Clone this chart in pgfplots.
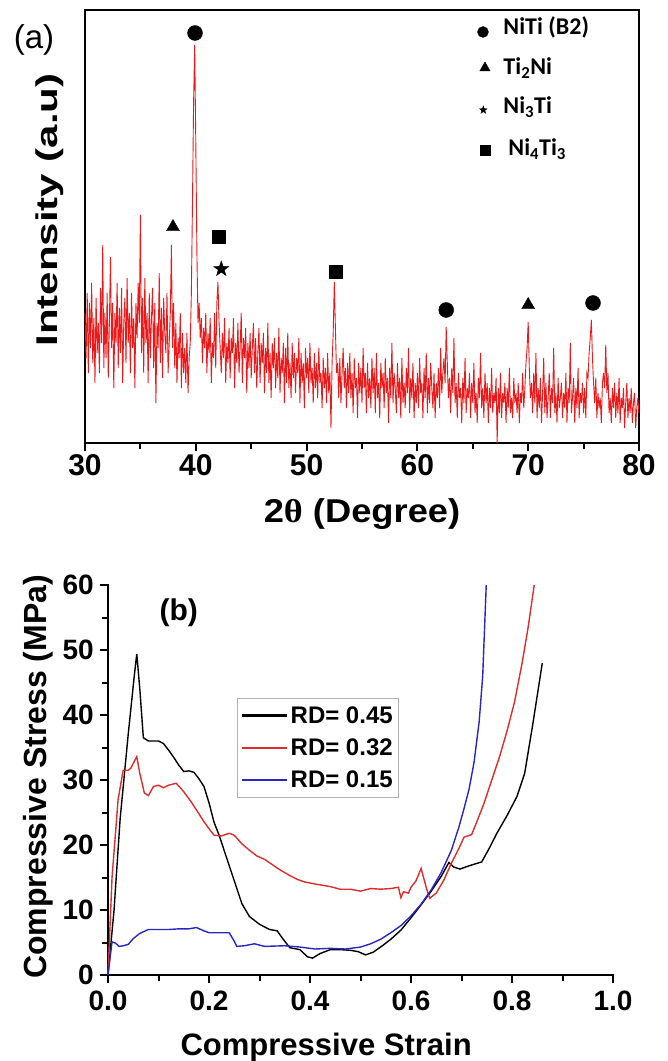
\documentclass[border=0pt]{standalone}
\usepackage{fontspec}
\setmainfont{Liberation Sans}
\newfontfamily\carlito{Carlito}
\newfontfamily\grserif{Liberation Serif}
\usepackage{graphicx}
\usepackage{pgfplots}
\pgfplotsset{compat=1.18}

\definecolor{xrdred}{RGB}{235,25,25}
\definecolor{rdred}{RGB}{220,45,45}
\definecolor{rdblue}{RGB}{40,40,190}

% filled five-pointed star
\pgfdeclareplotmark{fstar}{%
  \pgfpathmoveto{\pgfpointpolar{90}{\pgfplotmarksize}}%
  \pgfpathlineto{\pgfpointpolar{126}{0.4\pgfplotmarksize}}%
  \pgfpathlineto{\pgfpointpolar{162}{\pgfplotmarksize}}%
  \pgfpathlineto{\pgfpointpolar{198}{0.4\pgfplotmarksize}}%
  \pgfpathlineto{\pgfpointpolar{234}{\pgfplotmarksize}}%
  \pgfpathlineto{\pgfpointpolar{270}{0.4\pgfplotmarksize}}%
  \pgfpathlineto{\pgfpointpolar{306}{\pgfplotmarksize}}%
  \pgfpathlineto{\pgfpointpolar{342}{0.4\pgfplotmarksize}}%
  \pgfpathlineto{\pgfpointpolar{18}{\pgfplotmarksize}}%
  \pgfpathlineto{\pgfpointpolar{54}{0.4\pgfplotmarksize}}%
  \pgfpathclose\pgfusepathqfillstroke}

\begin{document}
\begin{tikzpicture}
\path[use as bounding box] (0,0) rectangle (668pt,1061pt);

% ---------------- (a) XRD ----------------
\begin{axis}[
    at={(85pt,618pt)}, anchor=south west,
    scale only axis, width=554pt, height=433pt,
    xmin=30, xmax=80, ymin=0, ymax=433,
    xtick={30,40,50,60,70,80}, minor x tick num=1,
    ytick=\empty,
    clip=false,
    separate axis lines,
    axis line style={line width=2.5pt, line cap=rect},
    tick align=outside, major tick length=8pt, minor tick length=6pt,
    tick style={line width=2pt, black},
    xtick pos=bottom,
    /pgf/number format/assume math mode=true,
    xticklabel style={font=\fontsize{30}{36}\selectfont\bfseries},
    xlabel={\scalebox{1.1}[1]{2{\grserif θ} (Degree)}},
    xlabel style={font=\fontsize{33}{40}\selectfont\bfseries,
        at={(axis description cs:0.5,-0.164)}, anchor=center},
    ylabel={\scalebox{1.4}[1]{Intensity (a.u)}},
    ylabel style={font=\fontsize{30}{36}\selectfont\bfseries,
        at={(axis description cs:-0.063,0.538)}, anchor=center},
]
\addplot[xrdred, line width=0.9pt] coordinates {
(30.0,130) (30.1,85) (30.2,150) (30.3,70) (30.4,140) (30.5,95) (30.6,160) (30.7,80) (30.8,125) (30.9,60)
(31.0,145) (31.1,90) (31.2,120) (31.3,70) (31.4,155) (31.5,100) (31.6,198) (31.7,75) (31.8,130) (31.9,85)
(32.0,150) (32.1,65) (32.2,120) (32.3,186) (32.4,95) (32.5,140) (32.6,55) (32.7,130) (32.8,100) (32.9,160)
(33.0,75) (33.1,135) (33.2,90) (33.3,155) (33.4,60) (33.5,120) (33.6,145) (33.7,80) (33.8,165) (33.9,100)
(34.0,130) (34.1,70) (34.2,150) (34.3,95) (34.4,125) (34.5,55) (34.6,140) (34.7,105) (34.8,160) (34.9,120)
(35.0,228) (35.1,90) (35.2,145) (35.3,70) (35.4,165) (35.5,100) (35.6,130) (35.7,60) (35.8,150) (35.9,85)
(36.0,125) (36.1,155) (36.2,75) (36.3,140) (36.4,40) (36.5,120) (36.6,95) (36.7,170) (36.8,80) (36.9,135)
(37.0,65) (37.1,145) (37.2,110) (37.3,90) (37.4,150) (37.5,70) (37.6,100) (37.7,130) (37.8,198) (37.9,95)
(38.0,140) (38.1,75) (38.2,120) (38.3,60) (38.4,105) (38.5,85) (38.6,130) (38.7,55) (38.8,110) (38.9,70)
(39.0,95) (39.1,60) (39.2,110) (39.3,50) (39.4,85) (39.5,100) (39.6,150) (39.7,240) (39.8,340) (39.9,398)
(40.0,300) (40.1,190) (40.2,120) (40.3,140) (40.4,105) (40.5,125) (40.6,80) (40.7,115) (40.8,95) (40.9,130)
(41.0,70) (41.1,110) (41.2,90) (41.3,125) (41.4,60) (41.5,100) (41.6,85) (41.7,130) (41.8,75) (41.9,140)
(42.0,161) (42.1,120) (42.2,95) (42.3,70) (42.4,110) (42.5,85) (42.6,125) (42.7,60) (42.8,100) (42.9,80)
(43.0,115) (43.1,65) (43.2,105) (43.3,90) (43.4,125) (43.5,55) (43.6,100) (43.7,80) (43.8,120) (43.9,70)
(44.0,95) (44.1,130) (44.2,60) (44.3,105) (44.4,85) (44.5,115) (44.6,50) (44.7,100) (44.8,75) (44.9,110)
(45.0,65) (45.1,95) (45.2,120) (45.3,70) (45.4,105) (45.5,55) (45.6,90) (45.7,115) (45.8,60) (45.9,100)
(46.0,80) (46.1,110) (46.2,50) (46.3,95) (46.4,70) (46.5,120) (46.6,60) (46.7,90) (46.8,45) (46.9,100)
(47.0,75) (47.1,105) (47.2,55) (47.3,90) (47.4,65) (47.5,115) (47.6,50) (47.7,85) (47.8,70) (47.9,100)
(48.0,40) (48.1,95) (48.2,60) (48.3,110) (48.4,55) (48.5,80) (48.6,45) (48.7,100) (48.8,65) (48.9,90)
(49.0,50) (49.1,85) (49.2,70) (49.3,105) (49.4,40) (49.5,90) (49.6,60) (49.7,80) (49.8,35) (49.9,95)
(50.0,65) (50.1,85) (50.2,50) (50.3,100) (50.4,60) (50.5,75) (50.6,40) (50.7,90) (50.8,55) (50.9,80)
(51.0,45) (51.1,95) (51.2,60) (51.3,70) (51.4,35) (51.5,85) (51.6,55) (51.7,75) (51.8,40) (51.9,90)
(52.0,50) (52.1,70) (52.2,15) (52.3,80) (52.4,110) (52.5,161) (52.6,115) (52.7,70) (52.8,80) (52.9,45)
(53.0,85) (53.1,40) (53.2,70) (53.3,95) (53.4,55) (53.5,75) (53.6,35) (53.7,80) (53.8,50) (53.9,90)
(54.0,45) (54.1,70) (54.2,30) (54.3,85) (54.4,55) (54.5,65) (54.6,25) (54.7,80) (54.8,50) (54.9,75)
(55.0,40) (55.1,95) (55.2,55) (55.3,70) (55.4,30) (55.5,80) (55.6,45) (55.7,65) (55.8,35) (55.9,85)
(56.0,50) (56.1,75) (56.2,30) (56.3,90) (56.4,45) (56.5,60) (56.6,25) (56.7,80) (56.8,55) (56.9,70)
(57.0,35) (57.1,85) (57.2,50) (57.3,65) (57.4,20) (57.5,75) (57.6,45) (57.7,100) (57.8,40) (57.9,70)
(58.0,55) (58.1,30) (58.2,80) (58.3,45) (58.4,65) (58.5,25) (58.6,85) (58.7,40) (58.8,60) (58.9,35)
(59.0,75) (59.1,50) (59.2,95) (59.3,30) (59.4,65) (59.5,45) (59.6,80) (59.7,25) (59.8,60) (59.9,40)
(60.0,70) (60.1,35) (60.2,85) (60.3,50) (60.4,60) (60.5,25) (60.6,75) (60.7,45) (60.8,90) (60.9,30)
(61.0,65) (61.1,40) (61.2,80) (61.3,55) (61.4,35) (61.5,70) (61.6,25) (61.7,60) (61.8,45) (61.9,75)
(62.0,35) (62.1,95) (62.2,50) (62.3,70) (62.4,85) (62.5,60) (62.6,116) (62.7,80) (62.8,45) (62.9,65)
(63.0,30) (63.1,75) (63.2,50) (63.3,105) (63.4,40) (63.5,60) (63.6,25) (63.7,70) (63.8,45) (63.9,55)
(64.0,20) (64.1,65) (64.2,40) (64.3,85) (64.4,30) (64.5,55) (64.6,45) (64.7,70) (64.8,25) (64.9,60)
(65.0,40) (65.1,80) (65.2,30) (65.3,50) (65.4,20) (65.5,65) (65.6,45) (65.7,90) (65.8,35) (65.9,55)
(66.0,25) (66.1,70) (66.2,40) (66.3,60) (66.4,20) (66.5,55) (66.6,35) (66.7,75) (66.8,30) (66.9,50)
(67.0,40) (67.1,65) (67.2,0) (67.3,55) (67.4,30) (67.5,70) (67.6,25) (67.7,50) (67.8,40) (67.9,60)
(68.0,20) (68.1,55) (68.2,35) (68.3,75) (68.4,30) (68.5,45) (68.6,25) (68.7,65) (68.8,40) (68.9,50)
(69.0,30) (69.1,60) (69.2,20) (69.3,50) (69.4,40) (69.5,70) (69.6,35) (69.7,55) (69.8,80) (69.9,95)
(70.0,121) (70.1,75) (70.2,45) (70.3,60) (70.4,30) (70.5,70) (70.6,40) (70.7,90) (70.8,25) (70.9,55)
(71.0,35) (71.1,65) (71.2,20) (71.3,50) (71.4,85) (71.5,30) (71.6,60) (71.7,25) (71.8,45) (71.9,70)
(72.0,25) (72.1,55) (72.2,40) (72.3,95) (72.4,30) (72.5,50) (72.6,20) (72.7,65) (72.8,35) (72.9,45)
(73.0,60) (73.1,25) (73.2,50) (73.3,35) (73.4,70) (73.5,20) (73.6,55) (73.7,40) (73.8,100) (73.9,30)
(74.0,45) (74.1,65) (74.2,20) (74.3,55) (74.4,35) (74.5,75) (74.6,25) (74.7,50) (74.8,40) (74.9,60)
(75.0,30) (75.1,55) (75.2,25) (75.3,70) (75.4,65) (75.5,90) (75.6,105) (75.7,123) (75.8,85) (75.9,60)
(76.0,40) (76.1,65) (76.2,25) (76.3,50) (76.4,35) (76.5,45) (76.6,20) (76.7,60) (76.8,70) (76.9,55)
(77.0,98) (77.1,50) (77.2,70) (77.3,30) (77.4,45) (77.5,20) (77.6,55) (77.7,35) (77.8,60) (77.9,25)
(78.0,50) (78.1,30) (78.2,65) (78.3,20) (78.4,45) (78.5,35) (78.6,55) (78.7,15) (78.8,40) (78.9,60)
(79.0,25) (79.1,45) (79.2,30) (79.3,55) (79.4,20) (79.5,40) (79.6,50) (79.7,15) (79.8,35) (79.9,45)
(80.0,30)
};
% phase markers over the peaks
\addplot[only marks, mark=*, mark size=7.5pt, black] coordinates {(39.93,410) (62.6,133) (75.85,140)};
\addplot[only marks, mark=triangle*, mark size=7.5pt, black] coordinates {(37.94,216) (70.0,138)};
\addplot[only marks, mark=square*, mark size=6.5pt, black] coordinates {(42.1,206) (52.65,171)};
\addplot[only marks, mark=fstar, mark size=8pt, black] coordinates {(42.3,174)};
% key markers
\addplot[only marks, mark=*, mark size=5.5pt, black] coordinates {(65.92,411)};
\addplot[only marks, mark=triangle*, mark size=6pt, black] coordinates {(66.1,375)};
\addplot[only marks, mark=fstar, mark size=4pt, black] coordinates {(65.95,333)};
\addplot[only marks, mark=square*, mark size=5pt, black] coordinates {(66.1,293)};
\node[anchor=west, font=\fontsize{24}{28}\selectfont\carlito\bfseries] at (axis cs:67.45,416) {NiTi (B2)};
\node[anchor=west, font=\fontsize{24}{28}\selectfont\carlito\bfseries] at (axis cs:67.45,375) {Ti\textsubscript{2}Ni};
\node[anchor=west, font=\fontsize{24}{28}\selectfont\carlito\bfseries] at (axis cs:67.45,336) {Ni\textsubscript{3}Ti};
\node[anchor=west, font=\fontsize{24}{28}\selectfont\carlito\bfseries] at (axis cs:67.9,294) {Ni\textsubscript{4}Ti\textsubscript{3}};
\node[font=\fontsize{33}{40}\selectfont] at (axis description cs:-0.092,0.931) {(a)};
\end{axis}

% ---------------- (b) stress-strain ----------------
\begin{axis}[
    at={(108pt,86pt)}, anchor=south west,
    scale only axis, width=505pt, height=390pt,
    xmin=0, xmax=1, ymin=0, ymax=60,
    clip=false,
    axis x line*=bottom, axis y line*=left,
    axis line style={line width=2.5pt, -, line cap=rect},
    xtick={0,0.2,0.4,0.6,0.8,1.0}, minor x tick num=1,
    ytick={0,10,20,30,40,50,60}, minor y tick num=1,
    tick align=outside, major tick length=8pt, minor tick length=6pt,
    tick style={line width=2pt, black},
    /pgf/number format/assume math mode=true,
    xticklabel style={/pgf/number format/.cd, fixed, fixed zerofill, precision=1, /tikz/.cd,
        font=\fontsize{28}{34}\selectfont\bfseries, inner sep=0pt, yshift=-8pt},
    yticklabel style={font=\fontsize{28}{34}\selectfont\bfseries, inner sep=0pt, xshift=-6pt},
    xlabel={Compressive Strain},
    xlabel style={font=\fontsize{31}{37}\selectfont\bfseries,
        at={(axis description cs:0.432,-0.185)}, anchor=center},
    ylabel={Compressive Stress (MPa)},
    ylabel style={font=\fontsize{32}{38}\selectfont\bfseries,
        at={(axis description cs:-0.139,0.508)}, anchor=center},
    legend style={at={(axis description cs:0.255,0.71)}, anchor=north west,
        draw=black!30, line width=0.8pt, fill=white,
        font=\fontsize{24}{28}\selectfont\bfseries,
        row sep=10pt, inner xsep=4pt, inner ysep=6pt},
    legend cell align=left,
    legend image code/.code={\draw[#1, line width=2.5pt] (0pt,0pt) -- (45pt,0pt);},
]
\addplot[black, line width=1.4pt] coordinates {
(0,0) (0.012,10) (0.024,24) (0.04,37) (0.052,46) (0.057,49.4) (0.063,44) (0.07,36.5)
(0.08,36) (0.1,36) (0.11,35.6) (0.12,34.6) (0.13,33.5) (0.14,32.3) (0.15,31.3) (0.16,31.4)
(0.17,31.2) (0.18,30.2) (0.19,29) (0.2,26.5) (0.21,23.5) (0.22,21.5) (0.235,18) (0.25,14.5)
(0.265,11) (0.28,9) (0.3,7.8) (0.32,7) (0.335,6.8) (0.345,5.7) (0.36,4.2) (0.38,3.9)
(0.395,2.8) (0.405,2.6) (0.42,3.3) (0.44,3.9) (0.46,3.9) (0.48,3.8) (0.495,3.6) (0.51,3.1)
(0.525,3.5) (0.545,4.6) (0.56,5.5) (0.58,6.9) (0.6,8.8) (0.62,10.8) (0.64,12.9) (0.66,15.2)
(0.675,17.3) (0.685,16.6) (0.697,16.3) (0.715,16.8) (0.74,17.4) (0.755,19.5) (0.77,21.8)
(0.79,24.5) (0.81,27.5) (0.825,31) (0.84,38) (0.85,43) (0.86,48)
};
\addlegendentry{RD= 0.45}
\addplot[rdred, line width=1.4pt] coordinates {
(0,0) (0.008,15) (0.02,27) (0.03,31.5) (0.04,31.5) (0.045,31.8) (0.057,33.6) (0.063,31)
(0.072,28) (0.08,27.6) (0.09,29) (0.1,29.2) (0.11,28.8) (0.12,29.2) (0.135,29.5) (0.15,28.2)
(0.165,26.6) (0.18,24.8) (0.19,23.6) (0.2,22.5) (0.21,21.5) (0.225,21.4) (0.24,21.8) (0.25,21.5)
(0.265,20.2) (0.28,19.2) (0.295,18.3) (0.31,17.8) (0.325,17) (0.34,16.2) (0.36,15.3) (0.375,14.7)
(0.39,14.3) (0.41,14) (0.425,13.8) (0.44,13.6) (0.46,13.2) (0.48,13.2) (0.5,12.9) (0.52,13.3)
(0.54,13.2) (0.56,13.3) (0.575,13.5) (0.58,11.9) (0.585,12.8) (0.595,12.6) (0.6,13.5) (0.61,14.5)
(0.62,16.4) (0.63,13.5) (0.637,11.8) (0.65,12.6) (0.665,14.6) (0.68,17.2) (0.695,19.5) (0.705,21.2)
(0.72,21.6) (0.73,23.5) (0.745,26.5) (0.76,30) (0.775,33.5) (0.79,37.5) (0.805,42) (0.82,48)
(0.832,53.5) (0.844,60)
};
\addlegendentry{RD= 0.32}
\addplot[rdblue, line width=1.4pt] coordinates {
(0,0) (0.008,5.1) (0.015,4.9) (0.022,4.4) (0.03,4.5) (0.04,4.7) (0.05,5.6) (0.063,6.4)
(0.08,7) (0.1,7) (0.12,7) (0.14,7.1) (0.16,7.1) (0.175,7.3) (0.19,6.8) (0.2,6.5) (0.22,6.5)
(0.24,6.5) (0.25,5.2) (0.255,4.4) (0.27,4.5) (0.29,4.8) (0.31,4.4) (0.35,4.5) (0.38,4.3)
(0.41,4) (0.44,4.1) (0.47,4) (0.5,4.3) (0.52,4.8) (0.54,5.5) (0.56,6.5) (0.58,7.6) (0.6,9.1)
(0.62,10.9) (0.64,13.1) (0.66,15.8) (0.68,19.2) (0.695,22.8) (0.705,25.6) (0.715,28.6)
(0.725,32.8) (0.735,39) (0.742,46) (0.749,60)
};
\addlegendentry{RD= 0.15}
\node[font=\fontsize{30}{36}\selectfont\bfseries] at (axis description cs:0.14,0.93) {(b)};
\end{axis}
\end{tikzpicture}
\end{document}
